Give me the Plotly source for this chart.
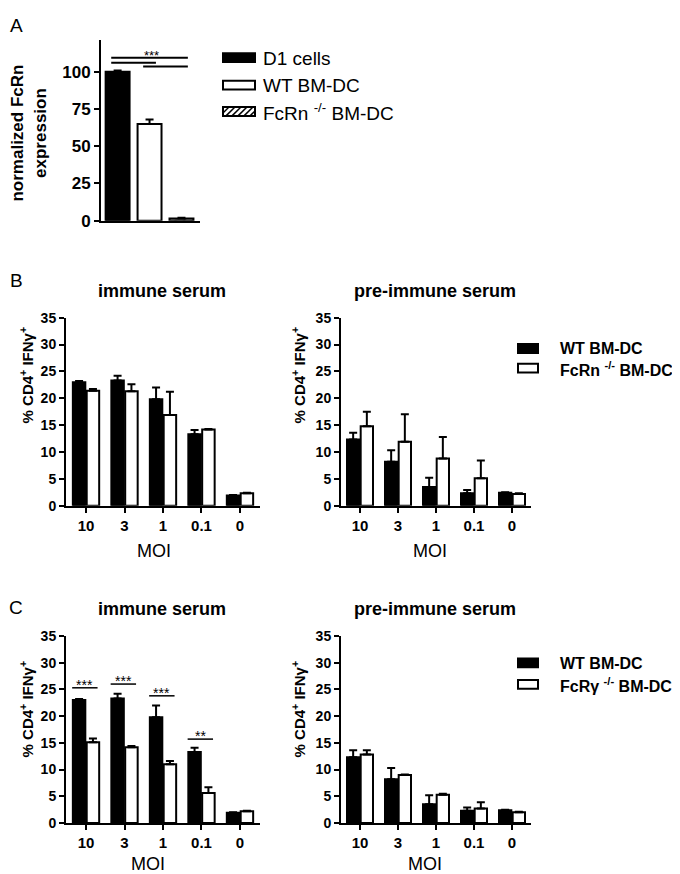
import plotly.graph_objects as go

W, H = 680, 874
def px(x): return x / W
def py(y): return 1 - y / H

FONT = "Liberation Sans, Arial, sans-serif"

# ---------------- data ----------------
a_groups = ["D1 cells", "WT BM-DC", "FcRn -/- BM-DC"]
a_values = [100, 65, 1.5]
a_errors = [0.8, 3.0, 0.4]

moi_labels = ["10", "3", "1", "0.1", "0"]
wt_immune = [23.0, 23.3, 19.8, 13.3, 1.9]
wt_immune_err = [0.2, 0.9, 2.2, 0.8, 0.1]
fcrn_immune = [21.4, 21.3, 16.9, 14.2, 2.3]
fcrn_immune_err = [0.3, 1.3, 4.3, 0.1, 0.1]
wt_pre = [12.3, 8.2, 3.5, 2.3, 2.4]
wt_pre_err = [1.3, 2.1, 1.7, 0.6, 0.1]
fcrn_pre = [14.8, 11.9, 8.8, 5.1, 2.2]
fcrn_pre_err = [2.7, 5.1, 4.0, 3.3, 0.1]
fcrg_immune = [15.1, 14.2, 11.0, 5.6, 2.2]
fcrg_immune_err = [0.7, 0.2, 0.6, 1.1, 0.1]
fcrg_pre = [12.8, 9.0, 5.3, 2.7, 2.0]
fcrg_pre_err = [0.8, 0.1, 0.2, 1.2, 0.1]

sig_c_labels = ["***", "***", "***", "**"]
sig_c_heights = [25.3, 26.0, 23.8, 15.7]

sig_a_lines = [(0, 2, 109.4), (0, 1, 106.0), (1, 2, 103.5)]
sig_a_label = "***"

# ---------------- figure ----------------
fig = go.Figure()
xs = list(range(len(moi_labels)))

def eb(err):
    return dict(type="data", symmetric=False, array=err, arrayminus=[0] * len(err),
                thickness=2, width=4, color="black")

# Panel A
fig.add_trace(go.Bar(
    x=[0, 1, 2], y=a_values, width=0.75, xaxis="x", yaxis="y",
    marker=dict(color=["black", "white", "white"],
                line=dict(color="black", width=2),
                pattern=dict(shape=["", "", "/"], fgcolor="black", size=6, solidity=0.3)),
    error_y=eb(a_errors), showlegend=False))

def pair(xa, ya, v1, e1, v2, e2):
    fig.add_trace(go.Bar(x=xs, y=v1, xaxis=xa, yaxis=ya, marker=dict(color="black", line=dict(color="black", width=2)),
                         error_y=eb(e1), showlegend=False, offsetgroup="a"))
    fig.add_trace(go.Bar(x=xs, y=v2, xaxis=xa, yaxis=ya, marker=dict(color="white", line=dict(color="black", width=2)),
                         error_y=eb(e2), showlegend=False, offsetgroup="b"))

pair("x2", "y2", wt_immune, wt_immune_err, fcrn_immune, fcrn_immune_err)
pair("x3", "y3", wt_pre, wt_pre_err, fcrn_pre, fcrn_pre_err)
pair("x4", "y4", wt_immune, wt_immune_err, fcrg_immune, fcrg_immune_err)
pair("x5", "y5", wt_pre, wt_pre_err, fcrg_pre, fcrg_pre_err)

tickfont = dict(family=FONT, size=15, color="black", weight="bold")

def yax(dom, rng, tickvals, anchor, size=14):
    return dict(domain=dom, range=rng, tickvals=tickvals, showline=True, linewidth=2, linecolor="black",
                ticks="outside", ticklen=5, tickwidth=2, tickcolor="black",
                tickfont=dict(family=FONT, size=size, color="black", weight="bold"),
                showgrid=False, zeroline=False, anchor=anchor, fixedrange=True)

def xax(dom, rng, anchor):
    return dict(domain=dom, range=rng, tickvals=xs, ticktext=moi_labels, showline=True, linewidth=2,
                linecolor="black", ticks="outside", ticklen=5, tickwidth=2, tickcolor="black",
                tickfont=tickfont, showgrid=False, zeroline=False, anchor=anchor, fixedrange=True)

yB = [py(500), py(308)]
yC = [py(824), py(633)]
xL = [px(58), px(252)]
xR = [px(333), px(523)]
crange = [-0.52, 4.52]
crangeR = [-0.5, 4.5]
ticks35 = [0, 5, 10, 15, 20, 25, 30, 35]

fig.update_layout(
    width=W, height=H, margin=dict(l=0, r=0, t=0, b=0),
    paper_bgcolor="white", plot_bgcolor="white", showlegend=False,
    barmode="group", bargap=0.28, bargroupgap=0.1,
    font=dict(family=FONT, color="black"),
    xaxis=dict(domain=[px(93), px(192)], range=[-0.52, 2.58], showline=True, linewidth=2, linecolor="black",
               showticklabels=False, ticks="", showgrid=False, zeroline=False, anchor="y", fixedrange=True),
    yaxis=yax([py(209), py(25)], [0, 121], [0, 25, 50, 75, 100], "x", size=17),
    xaxis2=xax(xL, crange, "y2"), yaxis2=yax(yB, [0, 35], ticks35, "x2"),
    xaxis3=xax(xR, crangeR, "y3"), yaxis3=yax(yB, [0, 35], ticks35, "x3"),
    xaxis4=xax(xL, crange, "y4"), yaxis4=yax(yC, [0, 35], ticks35, "x4"),
    xaxis5=xax(xR, crangeR, "y5"), yaxis5=yax(yC, [0, 35], ticks35, "x5"),
)

shapes = []
annotations = []

def ann(x, y, text, size, bold=False, **kw):
    d = dict(x=px(x), y=py(y), xref="paper", yref="paper", text=text, showarrow=False,
             xanchor="center", yanchor="middle",
             font=dict(family=FONT, size=size, color="black", weight="bold" if bold else "normal"))
    d.update(kw)
    annotations.append(d)

# Panel A significance
for x0, x1, h in sig_a_lines:
    shapes.append(dict(type="line", xref="x", yref="y", x0=x0 - 0.2, x1=x1 + 0.2, y0=h, y1=h,
                       line=dict(color="black", width=2)))
annotations.append(dict(x=1.05, y=109.4, xref="x", yref="y", text=sig_a_label, showarrow=False,
                        xanchor="center", yanchor="bottom", yshift=-7,
                        font=dict(family=FONT, size=13, color="black")))

# Panel C significance
for i, (lab, h) in enumerate(zip(sig_c_labels, sig_c_heights)):
    shapes.append(dict(type="line", xref="x4", yref="y4", x0=i - 0.36, x1=i + 0.3, y0=h, y1=h,
                       line=dict(color="black", width=1.5)))
    annotations.append(dict(x=i - 0.03, y=h, xref="x4", yref="y4", text=lab, showarrow=False,
                            xanchor="center", yanchor="bottom", yshift=-7,
                            font=dict(family=FONT, size=14, color="black")))

# Legend swatches
def rect(x0, y0, x1, y1, fill):
    shapes.append(dict(type="rect", xref="paper", yref="paper", x0=px(x0), x1=px(x1), y0=py(y1), y1=py(y0),
                       fillcolor=fill, line=dict(color="black", width=2)))

rect(215, 38, 247, 47, "black")
rect(215, 66, 247, 75, "white")
rect(215, 93, 247, 102, "white")
x0b, x1b, y0b, y1b = 215, 247, 93, 102
hgt = y1b - y0b
for s in range(int(x0b) - 9, int(x1b) + 1, 6):
    ax, ay, bx, by = s, y1b, s + hgt, y0b
    if ax < x0b:
        ay = y1b - (x0b - ax); ax = x0b
    if bx > x1b:
        by = y0b + (bx - x1b); bx = x1b
    if bx <= ax:
        continue
    shapes.append(dict(type="line", xref="paper", yref="paper", x0=px(ax), y0=py(ay), x1=px(bx), y1=py(by),
                       line=dict(color="black", width=1.5)))
ann(253, 43, "D1 cells", 19, xanchor="left")
ann(253, 71, "WT BM-DC", 19, xanchor="left")
ann(253, 98, "FcRn <sup>-/-</sup> BM-DC", 19, xanchor="left")

rect(510, 335, 530, 344, "black")
rect(510, 355, 530, 364, "white")
ann(550, 340, "WT BM-DC", 16, True, xanchor="left")
ann(550, 360, "FcRn <sup>-/-</sup> BM-DC", 16, True, xanchor="left")
rect(510, 656, 530, 665, "black")
rect(510, 678, 530, 687, "white")
ann(550, 661, "WT BM-DC", 16, True, xanchor="left")
ann(550, 683, "FcRγ <sup>-/-</sup> BM-DC", 16, True, xanchor="left")

# Panel labels
ann(8, 10, "A", 19)
ann(8, 270, "B", 19)
ann(8, 604, "C", 19)

# y titles
ann(21, 120, "normalized FcRn<br>expression", 17, True, textangle=-90)
ytitle = "% CD4<sup>+</sup> IFNγ<sup>+</sup>"
for x, y in [(18, 367), (290, 367), (18, 708), (290, 708)]:
    ann(x, y, ytitle, 15, True, textangle=-90)

# subplot titles
for y in [281, 605]:
    ann(154, y, "immune serum", 18, True)
    ann(427, y, "pre-immune serum", 18, True)

# MOI
ann(146, 546, "MOI", 18)
ann(422, 546, "MOI", 18)
ann(140, 866, "MOI", 18)
ann(417, 866, "MOI", 18)

fig.update_layout(shapes=shapes, annotations=annotations)
fig.write_html("out.html")
